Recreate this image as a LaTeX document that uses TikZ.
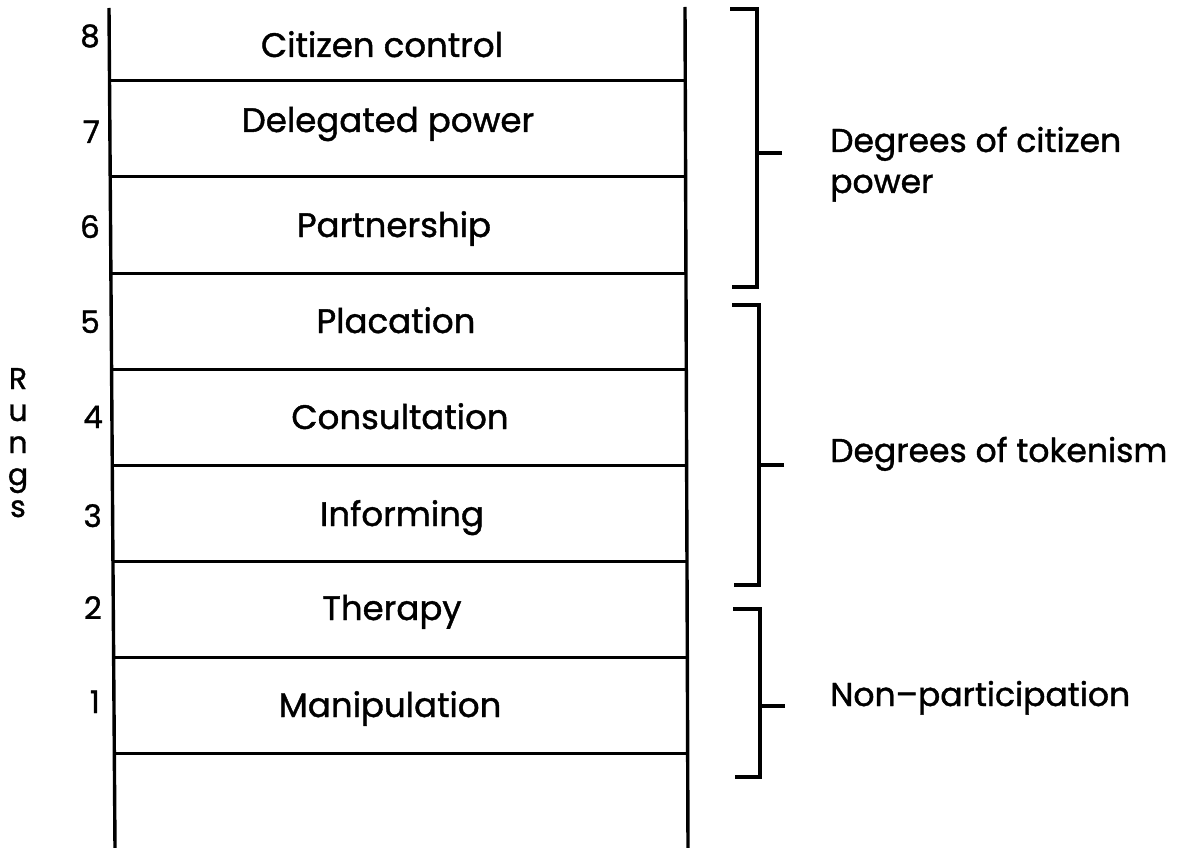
\documentclass[tikz,border=0pt]{standalone}
\usepackage{fontspec}
\setmainfont{Poppins}[FakeBold=1.2]
\begin{document}
\begin{tikzpicture}[x=1pt,y=-1pt,
  rail/.style={line width=3.4pt},
  rungline/.style={line width=3pt},
  brace/.style={line width=3.2pt, line cap=butt, line join=miter},
  lab/.style={anchor=base, inner sep=0pt, font=\fontsize{34}{40}\selectfont},
  num/.style={anchor=base east, inner sep=0pt, font=\fontsize{31}{36}\selectfont},
  grp/.style={anchor=base west, inner sep=0pt, align=left, font=\fontsize{33}{41}\selectfont},
]
\useasboundingbox (0,0) rectangle (1187,848);

% ladder rails
\coordinate (LT) at (109,8);
\coordinate (LB) at (115,848);
\coordinate (RT) at (685,7);
\coordinate (RB) at (688,848);
\draw[rail] (LT) -- (LB);
\draw[rail] (RT) -- (RB);

% rungs
\foreach \y [count=\i] in {81,177,273,369,465,561,657,753} {
  \coordinate (rl\i) at ({109+6*(\y-8)/840},\y);
  \coordinate (rr\i) at ({685+3*(\y-7)/841},\y);
  \draw[rungline] (rl\i) -- (rr\i);
}

% rung names
\node[lab] (c8) at (382,57)  {Citizen control};
\node[lab] (c7) at (388,132) {Delegated power};
\node[lab] (c6) at (394,237) {Partnership};
\node[lab] (c5) at (396,333) {Placation};
\node[lab] (c4) at (400,429) {Consultation};
\node[lab] (c3) at (402,526) {Informing};
\node[lab] (c2) at (392,620) {Therapy};
\node[lab] (c1) at (390,717) {Manipulation};

% rung numbers
\node[num] (n8) at (100,47)  {8};
\node[num] (n7) at (100,143) {7};
\node[num] (n6) at (100,238) {6};
\node[num] (n5) at (100,333) {5};
\node[num] (n4) at (103,428) {4};
\node[num] (n3) at (102,527) {3};
\node[num] (n2) at (102,619) {2};
\node[num] (n1) at (100,713) {1};

% axis title, anchored on the baseline of its last letter
\node[anchor=base, inner sep=0pt, align=center,
      font=\fontsize{30}{32}\selectfont] (rungs) at (18,517) {R\\u\\n\\g\\s};

% group brackets
\coordinate (b1a) at (730,9);
\coordinate (b1b) at (732,287);
\coordinate (b1m) at (782,153);
\draw[brace] (b1a) -- ++(27,0) |- (b1b);
\draw[brace] (b1m) -- ++(-25,0);

\coordinate (b2a) at (732,305);
\coordinate (b2b) at (734,585);
\coordinate (b2m) at (784,465);
\draw[brace] (b2a) -- ++(27,0) |- (b2b);
\draw[brace] (b2m) -- ++(-25,0);

\coordinate (b3a) at (733,609);
\coordinate (b3b) at (735,777);
\coordinate (b3m) at (785,706);
\draw[brace] (b3a) -- ++(27,0) |- (b3b);
\draw[brace] (b3m) -- ++(-25,0);

% group names (two-line name anchored on its second line)
\node[grp] (g1) at (830,193) {Degrees of citizen\\power};
\node[grp] (g2) at (830,462) {Degrees of tokenism};
\node[grp] (g3) at (830,706) {Non--participation};
\end{tikzpicture}
\end{document}
